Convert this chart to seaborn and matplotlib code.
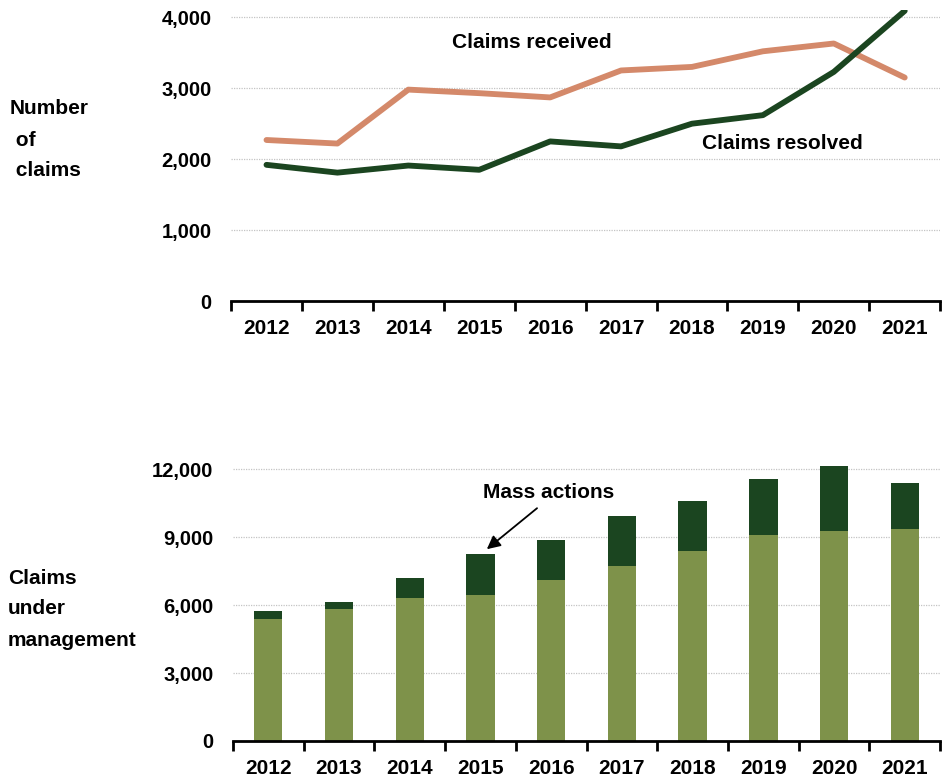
import matplotlib
matplotlib.use("Agg")
import matplotlib.pyplot as plt
import seaborn as sns
import pandas as pd
import numpy as np
from matplotlib.ticker import FuncFormatter, FixedLocator

years = ["2012", "2013", "2014", "2015", "2016", "2017", "2018", "2019", "2020", "2021"]
claims_received = [2270, 2220, 2980, 2930, 2870, 3250, 3300, 3520, 3630, 3150]
claims_resolved = [1920, 1810, 1910, 1850, 2250, 2180, 2500, 2620, 3230, 4090]
other_claims = [5400, 5820, 6310, 6440, 7090, 7750, 8380, 9090, 9290, 9380]
mass_actions = [320, 340, 900, 1810, 1790, 2180, 2240, 2470, 2870, 2020]

ORANGE = "#D4896A"
DARK = "#1B4520"
OLIVE = "#7E924A"

sns.set_theme(style="white")
plt.rcParams["font.family"] = ["Liberation Sans", "DejaVu Sans"]
plt.rcParams["font.weight"] = "bold"
for k in ["text.color", "xtick.color", "ytick.color", "axes.labelcolor"]:
    plt.rcParams[k] = "black"

FS = 15

fig = plt.figure(figsize=(9.43, 7.8), dpi=100)
ax1 = fig.add_axes([0.245, 0.614, 0.752, 0.373])
ax2 = fig.add_axes([0.247, 0.050, 0.750, 0.360])

fmt = FuncFormatter(lambda v, p: f"{int(v):,}")


def style_axis(ax, ymax, yticks):
    ax.set_xlim(-0.5, 9.5)
    ax.set_ylim(0, ymax)
    ax.set_yticks(yticks)
    ax.yaxis.set_major_formatter(fmt)
    ax.set_xticks(range(len(years)))
    ax.set_xticklabels(years)
    ax.xaxis.set_minor_locator(FixedLocator(np.arange(-0.5, 10, 1.0)))
    ax.tick_params(axis="x", which="major", bottom=True, length=0, pad=13, labelsize=FS)
    ax.tick_params(axis="x", which="minor", bottom=True, length=7, width=2, color="black", direction="out")
    ax.tick_params(axis="y", length=0, pad=14, labelsize=14.5)
    for lab in ax.get_xticklabels() + ax.get_yticklabels():
        lab.set_fontweight("bold")
    for s in ["top", "right", "left"]:
        ax.spines[s].set_visible(False)
    ax.spines["bottom"].set_color("black")
    ax.spines["bottom"].set_linewidth(2)
    ax.yaxis.grid(True, linestyle=(0, (1, 1)), color="#c4c4c4", linewidth=0.9)
    ax.xaxis.grid(False)
    ax.set_axisbelow(True)
    ax.set_xlabel("")
    ax.set_ylabel("")


# Top chart: lines
df_line = pd.DataFrame({"x": np.arange(len(years)), "received": claims_received, "resolved": claims_resolved})
sns.lineplot(data=df_line, x="x", y="received", ax=ax1, color=ORANGE, linewidth=4.2)
sns.lineplot(data=df_line, x="x", y="resolved", ax=ax1, color=DARK, linewidth=4.2)
style_axis(ax1, 4100, [0, 1000, 2000, 3000, 4000])
ax1.text(0.424, 0.89, "Claims received", transform=ax1.transAxes,
         ha="center", va="center", fontsize=FS, fontweight="bold")
ax1.text(0.777, 0.543, "Claims resolved", transform=ax1.transAxes,
         ha="center", va="center", fontsize=FS, fontweight="bold")

fig.text(10 / 943, 1 - 140 / 780, "Number\n of\n claims", ha="left", va="center",
         fontsize=FS, fontweight="bold", linespacing=1.8)

# Bottom chart: stacked bars
totals = [a + b for a, b in zip(other_claims, mass_actions)]
df_bar = pd.DataFrame({"year": years, "total": totals, "other": other_claims})
sns.barplot(data=df_bar, x="year", y="total", ax=ax2, color=DARK, width=0.4, saturation=1, linewidth=0)
sns.barplot(data=df_bar, x="year", y="other", ax=ax2, color=OLIVE, width=0.4, saturation=1, linewidth=0)
style_axis(ax2, 12400, [0, 3000, 6000, 9000, 12000])

ax2.text(3.97, 10980, "Mass actions", ha="center", va="center", fontsize=FS, fontweight="bold")
ax2.annotate("", xy=(3.09, 8470), xytext=(3.8, 10280),
             arrowprops=dict(arrowstyle="-|>", color="black", lw=1.3, mutation_scale=20,
                             shrinkA=0, shrinkB=0))

fig.text(8 / 943, 1 - 609 / 780, "Claims\nunder\nmanagement", ha="left", va="center",
         fontsize=FS, fontweight="bold", linespacing=1.8)

fig.savefig("out.png", dpi=100, facecolor="white")
